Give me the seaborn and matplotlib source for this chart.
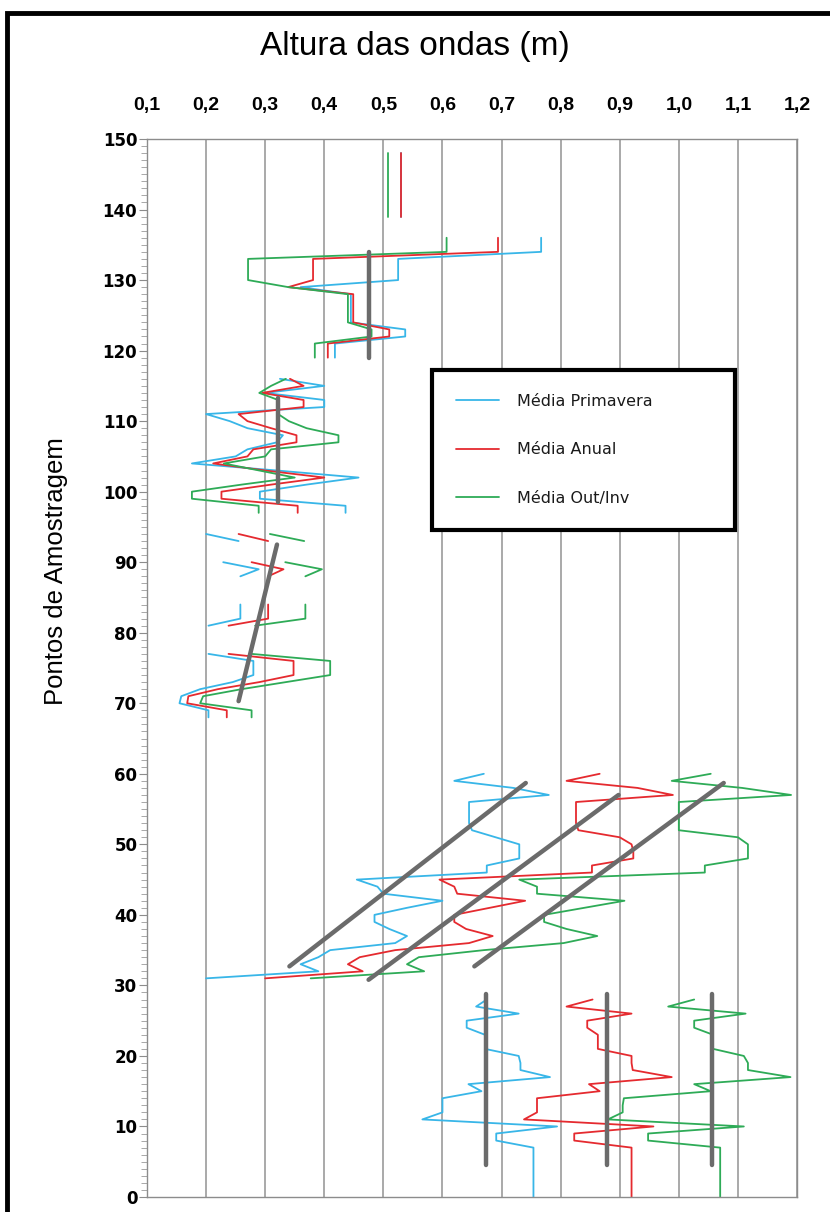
import numpy as np
import pandas as pd
import matplotlib
matplotlib.use("Agg")
import matplotlib.pyplot as plt
import seaborn as sns
from matplotlib.patches import Rectangle
from matplotlib.ticker import MultipleLocator, FixedLocator, FixedFormatter

# ---------------- data ----------------
series_names = ["Média Primavera", "Média Anual", "Média Out/Inv"]
series_colors = ["#38B6E8", "#E52A2F", "#2EAB57"]

# first sampling point (Pontos de Amostragem) of each contiguous segment
seg_start = [0, 31, 68, 81, 88, 93, 97, 119, 139]

prim_segments = [
    [.754] * 8 + [.691, .691, .794, .566, .60, .60, .60, .666, .644, .782, .732, .732, .729,
                  .672, .672, .672, .641, .641, .729, .657, .675],
    [.20, .39, .36, .39, .41, .52, .54, .51, .485, .485, .54, .60, .50, .49, .455, .675, .675,
     .73, .73, .73, .69, .65, .645, .645, .645, .645, .78, .72, .62, .67],
    [.204, .204, .155, .158, .19, .245, .28, .28, .28, .204],
    [.204, .258, .258, .258],
    [.258, .289, .229],
    [.255, .20],
    [.436, .436, .291, .291, .37, .458, .32, .176, .25, .27, .32, .33, .27, .24, .20, .40, .40,
     .30, .40, .325],
    [.418, .418, .418, .537, .537, .445, .445, .445, .445, .445, .36, .525, .525, .525, .525,
     .767, .767, .767],
    [.53] * 10,
]

anual_segments = [
    [.92] * 8 + [.823, .823, .957, .738, .76, .76, .76, .866, .848, .988, .922, .92, .92,
                 .863, .863, .863, .845, .845, .92, .81, .854],
    [.30, .465, .44, .46, .52, .645, .685, .64, .62, .62, .68, .74, .625, .62, .595, .853, .853,
     .923, .923, .92, .90, .83, .826, .826, .826, .826, .99, .93, .81, .866],
    [.235, .235, .168, .17, .22, .29, .348, .348, .348, .238],
    [.238, .305, .305, .305],
    [.305, .331, .277],
    [.305, .255],
    [.355, .355, .226, .226, .31, .40, .30, .212, .27, .28, .353, .353, .31, .27, .255, .365,
     .365, .295, .365, .342],
    [.406, .406, .406, .51, .51, .449, .449, .449, .449, .449, .339, .381, .381, .381, .381,
     .694, .694, .694],
    [.53] * 10,
]

outinv_segments = [
    [1.07] * 8 + [.948, .948, 1.11, .88, .905, .905, .907, 1.054, 1.026, 1.189, 1.117, 1.117,
                  1.11, 1.058, 1.058, 1.058, 1.026, 1.026, 1.113, .982, 1.026],
    [.377, .569, .54, .56, .67, .805, .862, .81, .772, .772, .84, .908, .76, .76, .73, 1.044,
     1.044, 1.117, 1.117, 1.117, 1.10, 1.0, 1.0, 1.0, 1.0, 1.0, 1.19, 1.107, .988, 1.054],
    [.277, .277, .19, .195, .26, .335, .41, .41, .41, .277],
    [.283, .368, .368, .368],
    [.368, .396, .334],
    [.366, .308],
    [.289, .289, .176, .176, .26, .35, .29, .23, .30, .31, .424, .424, .37, .34, .322, .322,
     .322, .29, .31, .335],
    [.384, .384, .384, .48, .48, .44, .44, .44, .44, .44, .339, .271, .271, .271, .271, .607,
     .607, .607],
    [.507] * 10,
]

# linear trend lines (start/end in data units)
trend_x0 = [.674, .878, 1.056, .341, .475, .654, .255, .322, .476]
trend_y0 = [4.5, 4.5, 4.5, 32.7, 30.8, 32.7, 70.3, 98.5, 119.0]
trend_x1 = [.674, .878, 1.056, .741, .898, 1.076, .320, .322, .476]
trend_y1 = [28.8, 28.8, 28.8, 58.7, 57.0, 58.7, 92.5, 113.3, 134.0]

x_ticks = [0.1, 0.2, 0.3, 0.4, 0.5, 0.6, 0.7, 0.8, 0.9, 1.0, 1.1, 1.2]
x_labels = ["0,1", "0,2", "0,3", "0,4", "0,5", "0,6", "0,7", "0,8", "0,9", "1,0", "1,1", "1,2"]
y_ticks = list(range(0, 151, 10))

# ---------------- long-form tables ----------------
rows = []
for name, segs in zip(series_names, [prim_segments, anual_segments, outinv_segments]):
    for k, (start, vals) in enumerate(zip(seg_start, segs)):
        for i, v in enumerate(vals):
            rows.append({"Altura": v, "Ponto": start + i, "Série": name, "seg": k})
df = pd.DataFrame(rows)

trows = []
for k in range(len(trend_x0)):
    trows.append({"Altura": trend_x0[k], "Ponto": trend_y0[k], "t": k})
    trows.append({"Altura": trend_x1[k], "Ponto": trend_y1[k], "t": k})
tdf = pd.DataFrame(trows)

# ---------------- figure ----------------
sns.set_theme(style="white")
plt.rcParams["font.family"] = ["Liberation Sans", "DejaVu Sans"]
plt.rcParams["text.color"] = "black"

W, H = 830, 1212
fig = plt.figure(figsize=(W / 100, H / 100), dpi=100)
ax_l, ax_r, ax_t, ax_b = 147, 797, 139, 1197
ax = fig.add_axes([ax_l / W, 1 - ax_b / H, (ax_r - ax_l) / W, (ax_b - ax_t) / H])

sns.lineplot(data=df, x="Altura", y="Ponto", hue="Série", units="seg", estimator=None,
             sort=False, palette=series_colors, hue_order=series_names, linewidth=1.3, ax=ax)
sns.lineplot(data=tdf, x="Altura", y="Ponto", units="t", estimator=None, sort=False,
             color="#6b6b6b", linewidth=3.2, legend=False, ax=ax)

ax.set_xlim(0.1, 1.2)
ax.set_ylim(0, 150)
ax.set_xlabel("")
ax.set_ylabel("")

ax.xaxis.tick_top()
ax.xaxis.set_major_locator(FixedLocator(x_ticks))
ax.xaxis.set_major_formatter(FixedFormatter(x_labels))
ax.tick_params(axis="x", which="both", top=True, bottom=False, labeltop=True,
               labelbottom=False, length=0, pad=18)
for t in ax.get_xticklabels():
    t.set_fontfamily(["Liberation Sans", "DejaVu Sans"])
    t.set_fontweight("bold")
    t.set_fontsize(14)
    t.set_color("black")

ax.yaxis.set_major_locator(FixedLocator(y_ticks))
ax.yaxis.set_minor_locator(MultipleLocator(1))
ax.tick_params(axis="y", which="major", left=True, length=6, width=0.8, color="#8c8c8c", pad=1)
ax.tick_params(axis="y", which="minor", left=True, length=4, width=0.6, color="#9a9a9a")
for t in ax.get_yticklabels():
    t.set_fontfamily(["DejaVu Sans"])
    t.set_fontweight("bold")
    t.set_fontsize(12)
    t.set_color("black")

ax.grid(axis="x", color="#a3a3a3", linewidth=1.3)
ax.grid(axis="y", visible=False)
for s in ax.spines.values():
    s.set_color("#8c8c8c")
    s.set_linewidth(1.0)
    s.set_visible(True)

# legend (box spans px 432..735 horizontally, top at 370)
old = ax.get_legend()
handles = old.legend_handles
labels = [t.get_text() for t in old.get_texts()]
old.remove()
for h in handles:
    h.set_linewidth(1.3)
bx0 = (432 - ax_l) / (ax_r - ax_l)
bw = (735 - 432) / (ax_r - ax_l)
btop = (ax_b - 370) / (ax_b - ax_t)
leg = ax.legend(handles, labels, loc="upper left", bbox_to_anchor=(bx0, btop - 0.2, bw, 0.2),
                mode="expand", frameon=True, fancybox=False, edgecolor="black", framealpha=1,
                prop={"family": "DejaVu Sans", "size": 11.5},
                labelspacing=2.1, handlelength=2.7, handletextpad=1.1, borderpad=1.5,
                borderaxespad=0)
leg.get_frame().set_linewidth(3)
for t in leg.get_texts():
    t.set_color("#1a1a1a")

# title and axis label
fig.text(0.5, 1 - 46 / H, "Altura das ondas (m)", ha="center", va="center", fontsize=24,
         color="black", family=["Liberation Sans", "DejaVu Sans"])
fig.text(56 / W, 1 - 571 / H, "Pontos de Amostragem", ha="center", va="center",
         rotation=90, fontsize=18.5, color="black", family=["Liberation Sans", "DejaVu Sans"])

# outer chart frame (extends past right/bottom edges)
fig.patches.append(Rectangle((7 / W, 1 - 1240 / H), 840 / W, (1240 - 13) / H,
                             transform=fig.transFigure, fill=False, edgecolor="black",
                             linewidth=3.5, zorder=10))

fig.savefig("out.png", dpi=100, facecolor="white")
